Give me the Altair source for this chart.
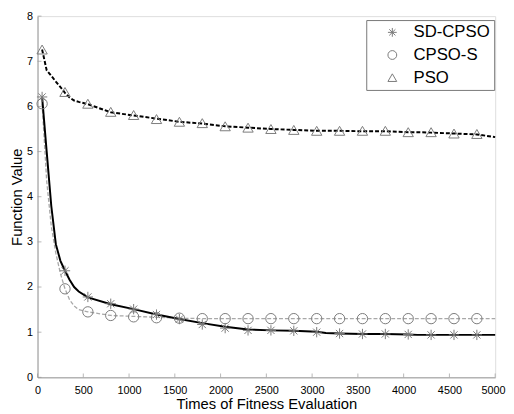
import altair as alt
import pandas as pd

names = ["SD-CPSO", "CPSO-S", "PSO"]

line_x = [50, 100, 150, 200, 250, 300, 350, 400, 450, 550, 800, 1050, 1300, 1550,
          1800, 2050, 2300, 2550, 2800, 3050, 3150, 3300, 3550, 3800, 4050, 4150,
          4300, 4550, 4800, 5000]
sd_line = [6.21, 5.0, 3.8, 2.95, 2.58, 2.36, 2.16, 2.0, 1.9, 1.77, 1.62, 1.51, 1.39, 1.29,
           1.2, 1.12, 1.06, 1.04, 1.03, 1.01, 0.98, 0.97, 0.96, 0.96, 0.95, 0.94,
           0.94, 0.94, 0.94, 0.94]
cp_line = [6.06, 4.35, 3.35, 2.75, 2.3, 1.96, 1.72, 1.58, 1.5, 1.45, 1.37, 1.35, 1.33, 1.31,
           1.3, 1.3, 1.3, 1.3, 1.3, 1.3, 1.3, 1.3, 1.3, 1.3, 1.3, 1.3,
           1.3, 1.3, 1.3, 1.3]
pso_line = [7.26, 6.8, 6.68, 6.55, 6.43, 6.3, 6.2, 6.13, 6.1, 6.05, 5.87, 5.8, 5.73, 5.66,
            5.62, 5.56, 5.53, 5.5, 5.48, 5.46, 5.46, 5.46, 5.45, 5.45, 5.43, 5.43,
            5.42, 5.4, 5.38, 5.32]

mk_x = [50, 300, 550, 800, 1050, 1300, 1550, 1800, 2050, 2300, 2550, 2800, 3050,
        3300, 3550, 3800, 4050, 4300, 4550, 4800]
sd_mk = [6.21, 2.36, 1.78, 1.63, 1.51, 1.39, 1.29, 1.17, 1.09, 1.04, 1.04, 1.03, 1.0,
         0.97, 0.96, 0.96, 0.95, 0.94, 0.94, 0.94]
cp_mk = [6.06, 1.96, 1.45, 1.37, 1.34, 1.32, 1.31, 1.3, 1.3, 1.3, 1.3, 1.3, 1.3,
         1.3, 1.3, 1.3, 1.3, 1.3, 1.3, 1.3]
pso_mk = [7.26, 6.32, 6.06, 5.88, 5.81, 5.72, 5.66, 5.63, 5.56, 5.53, 5.5, 5.48, 5.46,
          5.46, 5.46, 5.46, 5.43, 5.43, 5.4, 5.39]

x_ticks = [0, 500, 1000, 1500, 2000, 2500, 3000, 3500, 4000, 4500, 5000]
y_ticks = [0, 1, 2, 3, 4, 5, 6, 7, 8]

rows = []
for n, ys in zip(names, [sd_line, cp_line, pso_line]):
    for x, y in zip(line_x, ys):
        rows.append({"series": n, "x": x, "y": y})
lines_df = pd.DataFrame(rows)

rows = []
for n, ys in zip(names, [sd_mk, cp_mk, pso_mk]):
    for x, y in zip(mk_x, ys):
        rows.append({"series": n, "x": x, "y": y})
mk_df = pd.DataFrame(rows)

W, H = 465, 367
FONT = "Liberation Sans"
GREY = "#999999"
MK = "#7a7a7a"

xs = alt.Scale(domain=[0, 5000], nice=False, zero=False)
ysc = alt.Scale(domain=[0, 8], nice=False)

x_axis = alt.Axis(values=x_ticks, format="d", tickSize=0, domainColor=GREY, domainWidth=1,
                  labelFont=FONT, labelFontSize=11, labelColor="black", labelPadding=7,
                  labelFlush=False, labelOverlap=False,
                  labelAlign=alt.ExprRef("datum.value == 5000 ? 'right' : 'center'"),
                  labelOffset=alt.ExprRef("datum.value == 5000 ? 10 : 0"),
                  title="Times of Fitness Evaluation", titleFont=FONT, titleFontSize=15,
                  titleFontWeight="normal", titleColor="black", titlePadding=2, grid=False)
y_axis = alt.Axis(values=y_ticks, format="d", tickSize=0, domainColor=GREY, domainWidth=1,
                  labelFont=FONT, labelFontSize=11, labelColor="black", labelPadding=5,
                  labelFlush=False, labelOverlap=False,
                  title="Function Value", titleFont=FONT, titleFontSize=15,
                  titleFontWeight="normal", titleColor="black", titlePadding=2, grid=False)

X = alt.X("x:Q", scale=xs, axis=x_axis)
Y = alt.Y("y:Q", scale=ysc, axis=y_axis)

base = alt.Chart(lines_df)
sd = base.transform_filter(alt.datum.series == "SD-CPSO").mark_line(
    color="black", strokeWidth=2).encode(x=X, y=Y)
cp = base.transform_filter(alt.datum.series == "CPSO-S").mark_line(
    color="#a8a8a8", strokeWidth=1.3, strokeDash=[4, 2]).encode(x=X, y=Y)
pso = base.transform_filter(alt.datum.series == "PSO").mark_line(
    color="black", strokeWidth=2, strokeDash=[4, 2]).encode(x=X, y=Y)

ast = "M-1,0L1,0M0,-1L0,1M-0.7,-0.7L0.7,0.7M-0.7,0.7L0.7,-0.7"
markers = alt.Chart(mk_df).mark_point(filled=False, color=MK, strokeWidth=1, size=110,
                                      opacity=1).encode(
    x=X, y=Y,
    shape=alt.Shape("series:N",
                    scale=alt.Scale(domain=names, range=[ast, "circle", "triangle-up"]),
                    legend=alt.Legend(title=None, orient="none", legendX=334, legendY=4,
                                      strokeColor="#777777", fillColor="white",
                                      padding=4, rowPadding=5, symbolOffset=14,
                                      labelFont=FONT, labelFontSize=17, labelColor="black",
                                      labelOffset=13, symbolSize=80,
                                      symbolStrokeColor=MK, symbolFillColor="transparent",
                                      symbolStrokeWidth=1, cornerRadius=0)))

xt = alt.Chart(pd.DataFrame({"x": x_ticks})).mark_tick(
    orient="vertical", color=GREY, size=4, thickness=1).encode(
    x=X, y=alt.value(H - 2))
yt = alt.Chart(pd.DataFrame({"y": y_ticks})).mark_tick(
    orient="horizontal", color=GREY, size=4, thickness=1).encode(
    y=Y, x=alt.value(2))

chart = alt.layer(xt, yt, cp, pso, sd, markers).properties(
    width=W, height=H,
    autosize=alt.AutoSizeParams(type="none"),
    padding={"left": 30, "top": 5, "right": 11, "bottom": 34},
).configure_view(stroke=None).configure(background="white")

chart.save("out.html", embed_options={"renderer": "svg", "actions": False})
